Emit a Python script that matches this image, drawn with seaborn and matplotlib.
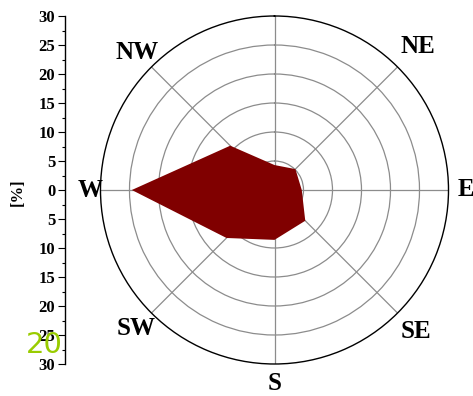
import numpy as np
import seaborn as sns
import matplotlib
matplotlib.use("Agg")
import matplotlib.pyplot as plt

# wind direction frequencies [%]
directions = ["N", "NE", "E", "SE", "S", "SW", "W", "NW"]
angles_deg = [0, 45, 90, 135, 180, 225, 270, 315]
freq = [4.3, 5.1, 4.7, 7.5, 8.6, 11.7, 24.6, 10.8]

# labels shown around the rose (no N label in the original)
label_dirs = ["NE", "E", "SE", "S", "SW", "W", "NW"]
label_angles = [45, 90, 135, 180, 225, 270, 315]
label_r = [35.0, 33.0, 34.5, 33.3, 33.8, 31.8, 33.5]

r_grid = [5, 10, 15, 20, 25]
r_max = 30
left_ticks = list(range(-30, 31, 5))

sns.set_style("white")
plt.rcParams["font.family"] = ["Liberation Serif", "DejaVu Serif"]
plt.rcParams.update({"text.color": "black", "axes.labelcolor": "black",
                     "xtick.color": "black", "ytick.color": "black"})

W, H = 473, 396
fig = plt.figure(figsize=(W / 100, H / 100), dpi=100)

cx, cy, rad = 274.5, 190, 174
ax = fig.add_axes([(cx - rad) / W, (H - cy - rad) / H, 2 * rad / W, 2 * rad / H],
                  projection="polar")
ax.set_theta_zero_location("N")
ax.set_theta_direction(-1)

theta = np.deg2rad(angles_deg)
ax.fill(theta, freq, color="#800000", lw=0, zorder=3)

ax.set_ylim(0, r_max)
ax.set_yticks(r_grid)
ax.set_yticklabels([])
ax.set_xticks(np.deg2rad(angles_deg))
ax.set_xticklabels([])
ax.set_xticks(np.deg2rad(np.arange(22.5, 360, 45)), minor=True)
ax.grid(True, color="#8c8c8c", lw=0.9)
ax.xaxis.grid(True, which="minor", lw=0)
ax.tick_params(axis="x", which="major", direction="in", length=5, width=0.8, color="black")
ax.tick_params(axis="x", which="minor", direction="in", length=4, width=0.8, color="black")
ax.spines["polar"].set_color("black")
ax.spines["polar"].set_linewidth(1.0)
ax.set_axisbelow(True)

for name, a, r in zip(label_dirs, label_angles, label_r):
    ax.text(np.deg2rad(a), r, name, ha="center", va="center", fontsize=18,
            fontweight="bold", color="black", clip_on=False)

# left linear scale
ax2 = fig.add_axes([65 / W, (H - cy - rad) / H, 0.0001, 2 * rad / H])
ax2.set_ylim(-30, 30)
ax2.set_yticks(left_ticks)
ax2.set_yticklabels([str(abs(t)) for t in left_ticks], fontsize=12, fontweight="bold")
ax2.set_yticks(np.arange(-27.5, 30, 5), minor=True)
ax2.set_xticks([])
for s in ["top", "right", "bottom"]:
    ax2.spines[s].set_visible(False)
ax2.spines["left"].set_color("black")
ax2.spines["left"].set_linewidth(1.0)
ax2.tick_params(axis="y", which="major", direction="out", length=5, width=0.8, pad=2, left=True)
ax2.tick_params(axis="y", which="minor", direction="out", length=2.5, width=0.8, left=True)
ax2.patch.set_visible(False)

fig.text(18 / W, 1 - 192 / H, "[%]", rotation=90, ha="center", va="center",
         fontsize=12, fontweight="bold", color="black")
fig.text(44 / W, 1 - 345 / H, "20", ha="center", va="center", fontsize=21,
         color="#99cc00", family="DejaVu Sans")

fig.savefig("out.png", dpi=100)
